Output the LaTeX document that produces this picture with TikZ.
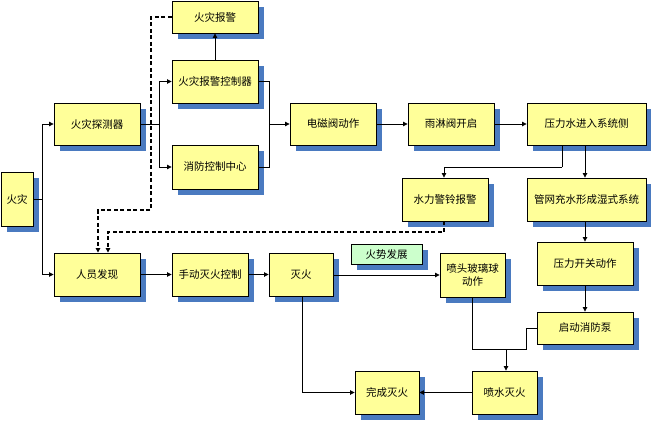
\documentclass[tikz,border=0pt]{standalone}
\usepackage{fontspec}
\setmainfont{Noto Sans CJK SC}
\usetikzlibrary{arrows.meta,shadows}
\definecolor{boxyellow}{HTML}{FFFF99}
\definecolor{boxgreen}{HTML}{CCFFCC}
\definecolor{shadowblue}{HTML}{4A7AC0}
\begin{document}
\begin{tikzpicture}[x=1pt,y=-1pt,
  box/.style={draw, fill=boxyellow, line width=0.9pt, inner sep=0pt, align=center,
    font=\fontsize{10.5}{13}\selectfont,
    drop shadow={shadow xshift=6pt, shadow yshift=-6pt, fill=shadowblue, opacity=1}},
  gbox/.style={box, fill=boxgreen},
  wire/.style={line width=0.8pt},
  arr/.style={wire, -{Triangle[length=4.5pt,width=4.5pt]}},
  darr/.style={arr, dashed, dash pattern=on 4pt off 2.5pt, line width=1.3pt},
]
\useasboundingbox (0,0) rectangle (651,421);
% nodes
\node[box, minimum width=32pt, minimum height=54pt] (fire) at (17,199) {火灾};
\node[box, minimum width=86pt, minimum height=42pt] (detector) at (97,124) {火灾探测器};
\node[box, minimum width=86pt, minimum height=32pt] (alarm) at (215,17) {火灾报警};
\node[box, minimum width=86pt, minimum height=43pt] (alarmctl) at (215,81.5) {火灾报警控制器};
\node[box, minimum width=86pt, minimum height=44pt] (center) at (215,167) {消防控制中心};
\node[box, minimum width=86pt, minimum height=42pt] (valve) at (333,124) {电磁阀动作};
\node[box, minimum width=86pt, minimum height=42pt] (deluge) at (451,124) {雨淋阀开启};
\node[box, minimum width=119pt, minimum height=42pt] (pressw) at (586.5,124) {压力水进入系统侧};
\node[box, minimum width=86pt, minimum height=43pt] (bell) at (445,199.5) {水力警铃报警};
\node[box, minimum width=119pt, minimum height=43pt] (pipe) at (586.5,199.5) {管网充水形成湿式系统};
\node[box, minimum width=96pt, minimum height=43pt] (pswitch) at (585,263.5) {压力开关动作};
\node[box, minimum width=96pt, minimum height=32pt] (pump) at (585,328) {启动消防泵};
\node[box, minimum width=86pt, minimum height=43pt] (person) at (97,274.5) {人员发现};
\node[box, minimum width=76pt, minimum height=43pt] (manual) at (210,274.5) {手动灭火控制};
\node[box, minimum width=64pt, minimum height=43pt] (ext) at (301,274.5) {灭火};
\node[gbox, minimum width=71pt, minimum height=20pt] (spread) at (386.5,254) {火势发展};
\node[box, minimum width=65pt, minimum height=44pt] (nozzle) at (472.5,275) {喷头玻璃球\\动作};
\node[box, minimum width=64pt, minimum height=43pt] (done) at (387,392.5) {完成灭火};
\node[box, minimum width=65pt, minimum height=43pt] (spray) at (504.5,392.5) {喷水灭火};
% junction coordinates
\coordinate (j1) at (42,199);
\coordinate (j2) at (159,124);
\coordinate (j3) at (269,124);
\coordinate (j4) at (562,167);
\coordinate (j5) at (506,349);
\coordinate (j6) at (526,349);
\coordinate (d1) at (151,210);
\coordinate (d2) at (444,232);
% connectors
\draw[wire] (fire.east|-j1) -- (j1);
\draw[arr] (j1) |- (detector.west);
\draw[arr] (j1) |- (person.west);
\draw[wire] (detector.east) -- (j2);
\draw[arr] (j2) |- (alarmctl.west);
\draw[arr] (j2) |- (center.west);
\draw[arr] (alarmctl.north) -- (alarm.south);
\draw[wire] (alarmctl.east) -| (j3);
\draw[wire] (center.east) -| (j3);
\draw[arr] (j3) -- (valve.west);
\draw[arr] (valve.east) -- (deluge.west);
\draw[arr] (deluge.east) -- (pressw.west);
\draw[wire] (pressw.south-|j4) -- (j4);
\draw[arr] (j4) -| (bell.north-|d2);
\draw[arr] (pressw.south-|pswitch.north) -- (pipe.north-|pswitch.north);
\draw[arr] (pipe.south-|pswitch.north) -- (pswitch.north);
\draw[arr] (pswitch.south) -- (pump.north);
\draw[arr] (person.east) -- (manual.west);
\draw[arr] (manual.east) -- (ext.west);
\draw[arr] (ext.east|-nozzle.west) -- (nozzle.west);
\draw[arr] (ext.south-|302,0) |- (done.west);
\draw[wire] (nozzle.south-|472,0) |- (j5);
\draw[wire] (pump.west) -| (j6) -- (j5);
\draw[arr] (j5) -- (spray.north-|j5);
\draw[arr] (spray.west) -- (done.east);
% dashed connectors
\draw[darr] (alarm.west) -| (d1) -| (person.north-|98,0);
\draw[darr] (bell.south-|d2) -- (d2) -| (person.north-|108,0);
\end{tikzpicture}
\end{document}
